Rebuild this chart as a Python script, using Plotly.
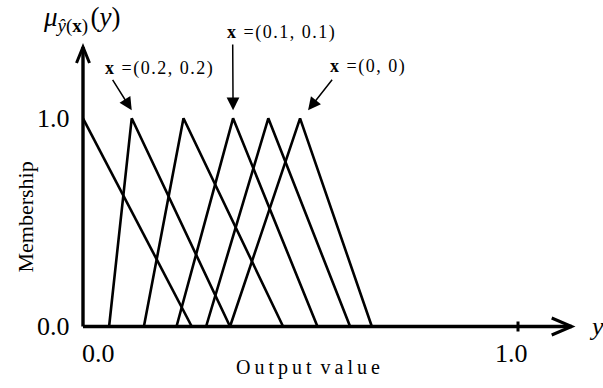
import plotly.graph_objects as go

# ---- membership functions of the output value ----
first_x = [0.0, 0.25]
first_mu = [1.0, 0.0]

tri_left = [0.060, 0.140, 0.215, 0.283, 0.338]
tri_peak = [0.112, 0.231, 0.345, 0.426, 0.499]
tri_right = [0.338, 0.460, 0.539, 0.614, 0.664]

# labelled input points and the triangle each one points at
point_labels = ["(0.2, 0.2)", "(0.1, 0.1)", "(0, 0)"]
point_target = [0, 2, 4]

tick_vals = [0.0, 1.0]
tick_text = ["0.0", "1.0"]

# ---- page geometry (pixels) ----
W, H = 603, 388
PX0, PY0 = 83.0, 326.5      # pixel position of the origin
SX, SY = 435.0, 208.2       # pixels per data unit


def dx(px):
    return px / SX


def dy(px):
    return px / SY


FONT = "Liberation Serif"
HAIR = "\u200a"
THIN = "\u2009"


def spaced(s, sep):
    return sep.join(list(s))


fig = go.Figure()

line_style = dict(color="black", width=2.6)
fig.add_trace(go.Scatter(x=first_x, y=first_mu, mode="lines", line=line_style,
                         hoverinfo="skip", showlegend=False))
for a, p, b in zip(tri_left, tri_peak, tri_right):
    fig.add_trace(go.Scatter(x=[a, p, b], y=[0.0, 1.0, 0.0], mode="lines",
                             line=line_style, hoverinfo="skip", showlegend=False))

# ---- hand-drawn axes with open arrow heads ----
x_end = dx(571.7 - PX0)
y_end = dy(PY0 - 47)
axis_line = dict(color="black", width=3.4)
shapes = [
    dict(type="line", xref="x", yref="y", x0=0, y0=0, x1=x_end, y1=0, line=axis_line),
    dict(type="line", xref="x", yref="y", x0=0, y0=0, x1=0, y1=y_end, line=axis_line),
    dict(type="path", xref="x", yref="y",
         path=f"M{x_end - dx(20)},{dy(8.5)} L{x_end},0 L{x_end - dx(20)},{-dy(8.5)}",
         line=dict(color="black", width=3)),
    dict(type="path", xref="x", yref="y",
         path=f"M{-dx(6.5)},{y_end - dy(16)} L0,{y_end} L{dx(6.5)},{y_end - dy(16)}",
         line=dict(color="black", width=3)),
    dict(type="line", xref="x", yref="y", x0=tick_vals[1], x1=tick_vals[1],
         y0=-dy(5), y1=dy(5), line=dict(color="black", width=3)),
]

annotations = []
tick_font = dict(family=FONT, size=26, color="black")
# y ticks
for v, t in zip(tick_vals, tick_text):
    annotations.append(dict(x=-dx(11), y=v, text=t, showarrow=False, xanchor="right",
                            yanchor="middle", font=tick_font))
# x ticks
annotations.append(dict(x=tick_vals[0], y=-dy(26.5), text=tick_text[0], showarrow=False,
                        xanchor="left", yanchor="middle", xshift=-3, font=tick_font))
annotations.append(dict(x=tick_vals[1], y=-dy(26.5), text=tick_text[1], showarrow=False,
                        xanchor="center", yanchor="middle", xshift=-7, font=tick_font))

# axis titles
annotations.append(dict(x=dx(307.5 - PX0), y=-dy(41), showarrow=False,
                        text=spaced("Output", THIN) + " " + THIN + spaced("value", THIN),
                        xanchor="center", yanchor="middle",
                        font=dict(family=FONT, size=20, color="black")))
annotations.append(dict(x=dx(25 - PX0), y=dy(PY0 - 217.5), text="Membership", textangle=-90,
                        showarrow=False, xanchor="center", yanchor="middle",
                        font=dict(family=FONT, size=22, color="black")))
annotations.append(dict(x=dx(587 - PX0), y=0, text="<i>y</i>", showarrow=False,
                        xanchor="left", yanchor="middle",
                        font=dict(family=FONT, size=26, color="black")))
annotations.append(dict(x=dx(41 - PX0), y=dy(PY0 - 19), showarrow=False,
                        text="<i>μ</i><sub><span style='font-size:19px'><i>ŷ</i>(<b>x</b>)"
                             "</span></sub>" + HAIR + "(<i>y</i>)",
                        xanchor="left", yanchor="middle",
                        font=dict(family=FONT, size=27, color="black")))

# labelled pointers to the triangles
label_pos = [(dx(103 - PX0), dy(PY0 - 68.5)),
             (dx(225 - PX0), dy(PY0 - 32.5)),
             (dx(328 - PX0), dy(PY0 - 66.5))]
tail_pos = [(dx(111.7 - PX0), dy(PY0 - 78.3)),
            (dx(232.7 - PX0), dy(PY0 - 43)),
            (dx(333.3 - PX0), dy(PY0 - 78.3))]
tip_shift = [0.0, 0.0, dx(8)]
for lab, (lx, ly), (tx, ty), k, sh in zip(point_labels, label_pos, tail_pos,
                                          point_target, tip_shift):
    annotations.append(dict(x=lx, y=ly, showarrow=False, xanchor="left", yanchor="middle",
                            text="<b>x</b>" + HAIR + spaced(" =" + lab, HAIR),
                            font=dict(family=FONT, size=18, color="black")))
    annotations.append(dict(x=tri_peak[k] + sh, y=1.0 + dy(8), ax=tx, ay=ty,
                            axref="x", ayref="y", xref="x", yref="y", text="",
                            showarrow=True, arrowhead=2, arrowsize=1.7, arrowwidth=1.5,
                            arrowcolor="black"))

fig.update_layout(
    width=W, height=H,
    margin=dict(l=0, r=0, t=0, b=0),
    paper_bgcolor="white", plot_bgcolor="white",
    xaxis=dict(range=[-PX0 / SX, (W - PX0) / SX], visible=False, fixedrange=True),
    yaxis=dict(range=[-(H - PY0) / SY, PY0 / SY], visible=False, fixedrange=True),
    shapes=shapes,
    annotations=annotations,
    showlegend=False,
)

fig.write_html("out.html")
